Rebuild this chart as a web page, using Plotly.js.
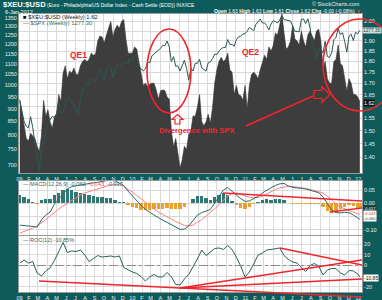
<!DOCTYPE html>
<html><head><meta charset="utf-8">
<script src="https://cdn.plot.ly/plotly-3.0.1.min.js"></script>
<style>html,body{margin:0;padding:0;background:#0d5b5b;}#chart{width:382px;height:300px;}</style>
</head><body><div id="chart"></div>
<script>
// ---------- DATA ----------
const weeks = [
'2009-01-02','2009-01-09','2009-01-16','2009-01-23','2009-01-30','2009-02-06','2009-02-13','2009-02-20','2009-02-27','2009-03-06',
'2009-03-13','2009-03-20','2009-03-27','2009-04-03','2009-04-10','2009-04-17','2009-04-24','2009-05-01','2009-05-08','2009-05-15',
'2009-05-22','2009-05-29','2009-06-05','2009-06-12','2009-06-19','2009-06-26','2009-07-03','2009-07-10','2009-07-17','2009-07-24',
'2009-07-31','2009-08-07','2009-08-14','2009-08-21','2009-08-28','2009-09-04','2009-09-11','2009-09-18','2009-09-25','2009-10-02',
'2009-10-09','2009-10-16','2009-10-23','2009-10-30','2009-11-06','2009-11-13','2009-11-20','2009-11-27','2009-12-04','2009-12-11',
'2009-12-18','2009-12-25',
'2010-01-01','2010-01-08','2010-01-15','2010-01-22','2010-01-29','2010-02-05','2010-02-12','2010-02-19','2010-02-26','2010-03-05',
'2010-03-12','2010-03-19','2010-03-26','2010-04-02','2010-04-09','2010-04-16','2010-04-23','2010-04-30','2010-05-07','2010-05-14',
'2010-05-21','2010-05-28','2010-06-04','2010-06-11','2010-06-18','2010-06-25','2010-07-02','2010-07-09','2010-07-16','2010-07-23',
'2010-07-30','2010-08-06','2010-08-13','2010-08-20','2010-08-27','2010-09-03','2010-09-10','2010-09-17','2010-09-24','2010-10-01',
'2010-10-08','2010-10-15','2010-10-22','2010-10-29','2010-11-05','2010-11-12','2010-11-19','2010-11-26','2010-12-03','2010-12-10',
'2010-12-17','2010-12-24','2010-12-31',
'2011-01-07','2011-01-14','2011-01-21','2011-01-28','2011-02-04','2011-02-11','2011-02-18','2011-02-25','2011-03-04','2011-03-11',
'2011-03-18','2011-03-25','2011-04-01','2011-04-08','2011-04-15','2011-04-22','2011-04-29','2011-05-06','2011-05-13','2011-05-20',
'2011-05-27','2011-06-03','2011-06-10','2011-06-17','2011-06-24','2011-07-01','2011-07-08','2011-07-15','2011-07-22','2011-07-29',
'2011-08-05','2011-08-12','2011-08-19','2011-08-26','2011-09-02','2011-09-09','2011-09-16','2011-09-23','2011-09-30','2011-10-07',
'2011-10-14','2011-10-21','2011-10-28','2011-11-04','2011-11-11','2011-11-18','2011-11-25','2011-12-02','2011-12-09','2011-12-16',
'2011-12-23','2011-12-30','2012-01-06'];

const xeuUsd = [
1.63,1.57,1.52,1.47,1.46,1.49,1.48,1.47,1.44,1.42,
1.48,1.625,1.557,1.585,1.535,1.51,1.556,1.57,1.65,1.62,
1.745,1.78,1.72,1.756,1.745,1.77,1.74,1.74,1.78,1.80,
1.81,1.80,1.81,1.84,1.83,1.835,1.90,1.925,1.92,1.89,
1.93,1.97,2.00,1.92,1.96,1.98,1.965,2.00,2.01,1.91,
1.84,1.84,
1.84,1.87,1.86,1.80,1.74,1.69,1.70,1.685,1.695,1.70,
1.70,1.67,1.63,1.667,1.67,1.668,1.64,1.63,1.50,1.437,
1.47,1.418,1.36,1.39,1.44,1.427,1.485,1.50,1.56,1.558,
1.595,1.65,1.536,1.52,1.535,1.567,1.53,1.595,1.70,1.76,
1.80,1.82,1.80,1.81,1.84,1.76,1.75,1.65,1.69,1.65,
1.645,1.625,1.69,
1.59,1.69,1.74,1.75,1.74,1.72,1.76,1.79,1.83,1.81,
1.87,1.85,1.877,1.94,1.93,1.98,2.04,1.94,1.86,1.87,
1.90,1.98,1.91,1.90,1.88,1.95,1.90,1.87,1.93,1.95,
1.92,1.90,1.95,1.96,1.90,1.77,1.80,1.72,1.70,1.70,
1.80,1.81,1.88,1.79,1.78,1.73,1.665,1.72,1.70,1.65,
1.65,1.64,1.62];

const spx = [
931.8,890.35,850.12,831.95,825.88,868.6,826.84,770.05,735.09,683.38,
756.55,768.54,815.94,842.5,856.56,869.6,866.23,877.52,929.23,882.88,
887.0,919.14,940.09,946.21,921.23,918.9,896.42,879.13,940.38,979.26,
987.48,1010.48,1004.09,1026.13,1028.93,1016.4,1042.73,1068.3,1044.38,1025.21,
1071.49,1087.68,1079.6,1036.19,1069.3,1093.48,1091.38,1091.49,1105.98,1106.41,
1102.47,1126.48,
1115.1,1144.98,1136.03,1091.76,1073.87,1066.19,1075.51,1109.17,1104.49,1138.7,
1149.99,1159.9,1166.59,1178.1,1194.37,1192.13,1217.28,1186.69,1110.88,1135.68,
1087.69,1089.41,1064.88,1091.6,1117.51,1076.76,1022.58,1077.96,1064.88,1102.66,
1101.6,1121.64,1079.25,1071.69,1064.59,1104.51,1109.55,1125.59,1148.67,1146.24,
1165.15,1176.19,1183.08,1183.26,1225.85,1199.21,1199.73,1189.4,1224.71,1240.4,
1243.91,1256.77,1257.64,
1271.5,1293.24,1283.35,1276.34,1310.87,1329.15,1343.01,1319.88,1321.15,1304.28,
1279.2,1313.8,1332.41,1328.17,1319.68,1337.38,1363.61,1340.2,1337.77,1333.27,
1331.1,1300.16,1270.98,1271.5,1268.45,1339.67,1343.8,1316.14,1345.02,1292.28,
1199.38,1178.81,1123.53,1176.8,1173.97,1154.23,1216.01,1136.43,1131.42,1155.46,
1224.58,1238.25,1285.09,1253.23,1263.85,1215.65,1158.67,1244.28,1255.19,1219.66,
1265.33,1257.6,1277.3];

const biweeks = [
'2009-01-02','2009-01-16','2009-01-30','2009-02-13','2009-02-27','2009-03-13','2009-03-27','2009-04-10','2009-04-24','2009-05-08',
'2009-05-22','2009-06-05','2009-06-19','2009-07-03','2009-07-17','2009-07-31','2009-08-14','2009-08-28','2009-09-11','2009-09-25',
'2009-10-09','2009-10-23','2009-11-06','2009-11-20','2009-12-04','2009-12-18',
'2010-01-01','2010-01-15','2010-01-29','2010-02-12','2010-02-26','2010-03-12','2010-03-26','2010-04-09','2010-04-23','2010-05-07',
'2010-05-21','2010-06-04','2010-06-18','2010-07-02','2010-07-16','2010-07-30','2010-08-13','2010-08-27','2010-09-10','2010-09-24',
'2010-10-08','2010-10-22','2010-11-05','2010-11-19','2010-12-03','2010-12-17','2010-12-31',
'2011-01-14','2011-01-28','2011-02-11','2011-02-25','2011-03-11','2011-03-25','2011-04-08','2011-04-22','2011-05-06','2011-05-20',
'2011-06-03','2011-06-17','2011-07-01','2011-07-15','2011-07-29','2011-08-12','2011-08-26','2011-09-09','2011-09-23','2011-10-07',
'2011-10-21','2011-11-04','2011-11-18','2011-12-02','2011-12-16','2011-12-30','2012-01-06'];

const macdLine = [
-0.082,-0.083,-0.085,-0.087,-0.089,-0.063,-0.044,-0.033,-0.003,0.016,
0.039,0.054,0.063,0.066,0.069,0.073,0.076,0.077,0.079,0.082,
0.084,0.088,0.084,0.076,0.067,0.046,0.027,0.012,-0.008,-0.023,
-0.035,-0.044,-0.054,-0.063,-0.070,-0.082,-0.091,-0.098,-0.097,-0.085,
-0.065,-0.044,-0.035,-0.029,-0.023,0.001,0.024,0.050,0.059,0.044,
0.031,0.018,0.007,0.009,0.018,0.026,0.039,0.050,0.058,0.067,
0.073,0.075,0.065,0.060,0.059,0.056,0.054,0.050,0.045,0.040,
0.024,-0.001,-0.025,-0.035,-0.036,-0.034,-0.035,-0.044,-0.055,-0.060];

const signalLine = [
-0.112,-0.106,-0.100,-0.093,-0.085,-0.074,-0.061,-0.048,-0.033,-0.021,
-0.010,0.001,0.012,0.022,0.031,0.039,0.044,0.050,0.055,0.059,
0.065,0.069,0.071,0.070,0.063,0.054,0.042,0.029,0.016,0.003,
-0.010,-0.021,-0.033,-0.042,-0.052,-0.059,-0.068,-0.076,-0.083,-0.085,
-0.082,-0.070,-0.061,-0.048,-0.035,-0.021,-0.006,0.012,0.027,0.037,
0.039,0.035,0.027,0.023,0.021,0.022,0.027,0.035,0.044,0.052,
0.058,0.062,0.064,0.063,0.061,0.059,0.056,0.052,0.047,0.044,
0.039,0.027,0.012,-0.003,-0.014,-0.021,-0.027,-0.033,-0.039,-0.043];

const macdHist = [
0.030,0.023,0.015,0.006,-0.004,0.011,0.017,0.015,0.030,0.037,
0.049,0.053,0.051,0.044,0.038,0.034,0.032,0.027,0.024,0.023,
0.019,0.019,0.013,0.006,0.004,-0.008,-0.015,-0.017,-0.024,-0.026,
-0.025,-0.023,-0.021,-0.021,-0.018,-0.023,-0.023,-0.022,-0.014,0.000,
0.017,0.026,0.026,0.019,0.012,0.022,0.030,0.038,0.032,0.007,
-0.008,-0.017,-0.020,-0.014,-0.003,0.004,0.012,0.015,0.014,0.015,
0.015,0.013,0.001,-0.003,-0.002,-0.003,-0.002,-0.002,-0.002,-0.004,
-0.015,-0.028,-0.037,-0.032,-0.022,-0.013,-0.008,-0.011,-0.016,-0.017];

const roc12 = [
2.3,5.0,2.3,3.7,-7.0,-9.8,-5.1,-2.3,4.7,13.6,
21.5,12.1,13.6,13.1,14.5,9.8,3.7,6.5,9.3,7.9,
8.4,8.9,7.9,8.9,-1.9,-4.2,-6.1,-7.5,-10.3,-14.5,
-10.7,-8.4,-10.7,-10.7,-6.5,-10.7,-17.8,-18.2,-12.6,-8.4,
-1.4,6.1,14.5,9.3,12.6,15.9,16.4,15.0,18.7,15.0,
7.9,-0.5,-10.7,-6.1,1.4,9.8,11.7,14.5,15.0,15.4,
16.4,9.3,5.6,3.3,2.3,-1.9,-5.6,0.0,1.9,-0.5,
-8.9,-4.2,-2.8,-2.8,-7.0,-8.9,-4.7,-5.1,-7.9,-10.85];

const monthTicks = [
'2009-01-01','2009-02-01','2009-03-01','2009-04-01','2009-05-01','2009-06-01','2009-07-01','2009-08-01','2009-09-01','2009-10-01','2009-11-01','2009-12-01',
'2010-01-01','2010-02-01','2010-03-01','2010-04-01','2010-05-01','2010-06-01','2010-07-01','2010-08-01','2010-09-01','2010-10-01','2010-11-01','2010-12-01',
'2011-01-01','2011-02-01','2011-03-01','2011-04-01','2011-05-01','2011-06-01','2011-07-01','2011-08-01','2011-09-01','2011-10-01','2011-11-01','2011-12-01',
'2012-01-01'];
const monthLabels = [
'09','F','M','A','M','J','J','A','S','O','N','D',
'10','F','M','A','M','J','J','A','S','O','N','D',
'11','F','M','A','M','J','J','A','S','O','N','D','12'];
// tick levels; labels hidden behind the current-value boxes are left blank (as in the reference)
const ratioTicks  = [1.40,1.45,1.50,1.55,1.60,1.65,1.70,1.75,1.80,1.85,1.90,1.95,2.00];
const ratioLabels = ['1.40','1.45','1.50','1.55','','1.65','1.70','1.75','1.80','1.85','1.90','','2.00'];
const spxTicks = [700,750,800,850,900,950,1000,1050,1100,1150,1200,1250,1300,1350];
const macdTicks  = [0.05,0.00,-0.05,-0.10];
const macdLabels = ['0.05','0.00','','-0.10'];
const rocTicks  = [20,10,0,-10,-20];
const rocLabels = ['20','10','0','','-20'];

// ---------- STYLE / LAYOUT ----------
const TEAL = '#0d5b5b', RED = '#f0262b', GRID = '#d9d9d9';
const FONT = 'Liberation Sans, Arial, sans-serif';
const L = 19, R = 362, T = 14, B = 292;
const px = x => (x - L) / (R - L);
const py = y => (B - y) / (B - T);
const tf = {size: 5.5, color: '#e8eeee', family: FONT};
const xr = ['2008-12-30 12:00', '2012-01-13'];

const traces = [
  {x: weeks, y: xeuUsd, type: 'scatter', mode: 'lines', fill: 'tozeroy',
   fillcolor: '#3d3d3d', line: {color: '#333333', width: 0.6}, xaxis: 'x', yaxis: 'y', hoverinfo: 'skip'},
  {x: weeks, y: spx, type: 'scatter', mode: 'lines', line: {color: '#2b5753', width: 1},
   xaxis: 'x', yaxis: 'y2', hoverinfo: 'skip'},
  {x: biweeks, y: macdHist, type: 'bar', width: 11 * 86400000,
   marker: {color: macdHist.map(v => v >= 0 ? '#2e7a72' : '#e9a02c'), line: {width: 0}},
   xaxis: 'x2', yaxis: 'y3', hoverinfo: 'skip'},
  {x: biweeks, y: signalLine, type: 'scatter', mode: 'lines', line: {color: '#ff7f7f', width: 1},
   xaxis: 'x2', yaxis: 'y3', hoverinfo: 'skip'},
  {x: biweeks, y: macdLine, type: 'scatter', mode: 'lines', line: {color: '#2b6b66', width: 1},
   xaxis: 'x2', yaxis: 'y3', hoverinfo: 'skip'},
  {x: biweeks, y: roc12, type: 'scatter', mode: 'lines', line: {color: '#2b5f5a', width: 1},
   xaxis: 'x3', yaxis: 'y4', hoverinfo: 'skip'}
];

const xBase = {type: 'date', range: xr, tickmode: 'array', tickvals: monthTicks, ticktext: monthLabels,
  showgrid: true, gridcolor: GRID, gridwidth: 1, ticks: '', zeroline: false, tickfont: tf,
  showline: true, linecolor: '#9a9a9a', linewidth: 1, mirror: true, tickangle: 0};
const yBase = {showgrid: true, gridcolor: GRID, gridwidth: 1, ticks: '', zeroline: false, tickfont: tf,
  showline: true, linecolor: '#9a9a9a', linewidth: 1, mirror: true};

const ann = (x, y, text, o) => Object.assign({xref: 'paper', yref: 'paper', x: px(x), y: py(y), text,
  showarrow: false, xanchor: 'left', yanchor: 'middle', font: {size: 5.5, color: '#fff', family: FONT}}, o || {});

const annotations = [
  ann(3, 12, '6-Jan-2012', {font: {size: 5.5, color: '#fff', family: FONT}}),
  ann(362, 4.5, '© StockCharts.com', {xanchor: 'right', font: {size: 5.5, color: '#e8eeee', family: FONT}}),
  ann(363, 11, '<b>Open</b> 1.63 <b>High</b> 1.63 <b>Low</b> 1.61 <b>Close</b> 1.62 <b>Chg</b> -0.00 (-0.08%) <span style="color:#ff3030">▼</span>',
      {xanchor: 'right', font: {size: 5, color: '#fff', family: FONT}}),
  ann(21, 17, '<span style="color:#111">■</span> $XEU:$USD (Weekly) 1.62', {font: {size: 5.8, color: '#222', family: FONT}}),
  ann(21, 22.5, '— $SPX (Weekly) 1277.30', {font: {size: 5.8, color: '#2b6b66', family: FONT}}),
  ann(78, 55, '<b>QE1</b>', {xanchor: 'center', font: {size: 8.5, color: RED, family: FONT}}),
  ann(251, 52, '<b>QE2</b>', {xanchor: 'center', font: {size: 8.5, color: RED, family: FONT}}),
  ann(197, 130, '<b>Divergence with SPX</b>', {xanchor: 'center', font: {size: 7.6, color: RED, family: FONT}}),
  ann(21, 184, '— MACD(12,26,9) -0.060, <span style="color:#ff5a5a">-0.043</span>, -0.017', {font: {size: 5.5, color: '#2b6b66', family: FONT}}),
  ann(21, 240, '— ROC(12) -10.85%', {font: {size: 5.5, color: '#2b5f5a', family: FONT}}),
  ann(381.5, 30.5, '1277.30', {xanchor: 'right', bgcolor: '#d4dcdc', borderpad: 0, font: {size: 4.8, color: '#1d3d3a', family: FONT}}),
  ann(363, 102.5, '1.62', {bgcolor: '#111', borderpad: 0, font: {size: 5.3, color: '#fff', family: FONT}}),
  ann(363, 208.4, '-0.017', {bgcolor: '#123c38', borderpad: 0, font: {size: 4.1, color: '#fff', family: FONT}}),
  ann(363, 213.6, '-0.043', {bgcolor: '#fff', borderpad: 0, font: {size: 4.1, color: '#e03030', family: FONT}}),
  ann(363, 218.8, '-0.060', {bgcolor: '#fff', borderpad: 0, font: {size: 4.1, color: '#1d4f4a', family: FONT}}),
  ann(363, 277.5, '-10.85', {bgcolor: '#fff', borderpad: 0, font: {size: 5, color: '#111', family: FONT}})
];

const seg = (x0, y0, x1, y1, w) => ({type: 'line', xref: 'paper', yref: 'paper', x0: px(x0), y0: py(y0), x1: px(x1), y1: py(y1),
  line: {color: RED, width: w || 1.5}});
const poly = pts => ({type: 'path', xref: 'paper', yref: 'paper',
  path: pts.map((p, i) => (i ? 'L' : 'M') + px(p[0]).toFixed(5) + ',' + py(p[1]).toFixed(5)).join(' ') + ' Z',
  line: {color: RED, width: 1.2}, fillcolor: 'rgba(0,0,0,0)'});

const shapes = [
  {type: 'line', xref: 'paper', yref: 'y4', x0: 0, x1: 1, y0: 0, y1: 0, line: {color: '#8a8a8a', width: 1, dash: 'dashdot'}},
  {type: 'circle', xref: 'paper', yref: 'paper', x0: px(147), x1: px(191), y0: py(113), y1: py(29), line: {color: RED, width: 1.6}},
  {type: 'circle', xref: 'paper', yref: 'paper', x0: px(323), x1: px(397), y0: py(111), y1: py(19), line: {color: RED, width: 1.6}},
  seg(246, 126, 313, 96, 1.4),
  poly([[177.5, 114.5], [183, 119.5], [180, 119.5], [180, 124], [175, 124], [175, 119.5], [172, 119.5]]),
  poly([[314, 90.5], [322, 90.5], [322, 86.5], [330, 94.5], [322, 102.5], [322, 98.5], [314, 98.5]]),
  seg(223, 193, 362, 201),
  seg(330, 212, 362, 208),
  seg(39, 281, 362, 297),
  seg(180, 288, 362, 260),
  seg(180, 288, 362, 279),
  seg(280, 248, 362, 265)
];

const layout = {
  width: 382, height: 300,
  margin: {l: L, r: 382 - R, t: T, b: 300 - B, pad: 0},
  paper_bgcolor: TEAL, plot_bgcolor: '#ffffff',
  showlegend: false, bargap: 0,
  font: {family: FONT, size: 5.5, color: '#e8eeee'},
  title: {text: '<span style="font-size:7.6px"><b>$XEU:$USD</b></span> (Euro - Philadelphia/US Dollar Index - Cash Settle (EOD)) INX/ICE',
    x: 3 / 382, xanchor: 'left', xref: 'container', y: 1 - 5 / 300, yanchor: 'middle', yref: 'container',
    font: {size: 5, color: '#ffffff', family: FONT}},
  xaxis: Object.assign({}, xBase, {domain: [0, 1], anchor: 'y'}),
  xaxis2: Object.assign({}, xBase, {domain: [0, 1], anchor: 'y3', showticklabels: false}),
  xaxis3: Object.assign({}, xBase, {domain: [0, 1], anchor: 'y4'}),
  yaxis: Object.assign({}, yBase, {domain: [py(173), 1], anchor: 'x', side: 'right', type: 'log',
    range: [Math.log10(1.3423), Math.log10(2.0397)], tickmode: 'array', tickvals: ratioTicks, ticktext: ratioLabels}),
  yaxis2: Object.assign({}, yBase, {overlaying: 'y', anchor: 'x', side: 'left', type: 'log', showgrid: false,
    range: [Math.log10(675.4), Math.log10(1373.6)], tickmode: 'array', tickvals: spxTicks, ticktext: spxTicks.map(String)}),
  yaxis3: Object.assign({}, yBase, {domain: [py(235), py(181)], anchor: 'x2', side: 'right',
    range: [-0.119, 0.0838], tickmode: 'array', tickvals: macdTicks, ticktext: macdLabels}),
  yaxis4: Object.assign({}, yBase, {domain: [0, py(236)], anchor: 'x3', side: 'right',
    range: [-24.8, 27.6], tickmode: 'array', tickvals: rocTicks, ticktext: rocLabels}),
  annotations, shapes
};

Plotly.newPlot('chart', traces, layout, {staticPlot: true, displayModeBar: false});
</script></body></html>
